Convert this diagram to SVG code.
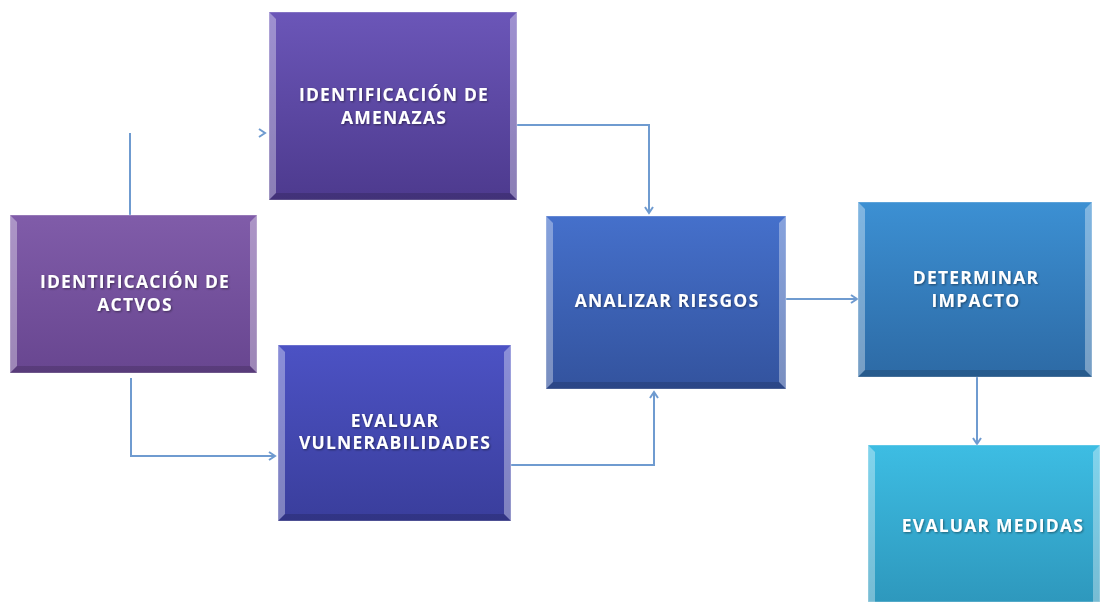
<svg xmlns="http://www.w3.org/2000/svg" width="1100" height="602" viewBox="0 0 1100 602">
<defs>
<linearGradient id="g1" x1="0" y1="0" x2="0" y2="1"><stop offset="0" stop-color="#805ca9"/><stop offset="1" stop-color="#684690"/></linearGradient>
<linearGradient id="g2" x1="0" y1="0" x2="0" y2="1"><stop offset="0" stop-color="#6b56b8"/><stop offset="1" stop-color="#4d3a8e"/></linearGradient>
<linearGradient id="g6" x1="0" y1="0" x2="0" y2="1"><stop offset="0" stop-color="#4c52c4"/><stop offset="1" stop-color="#3a3e9c"/></linearGradient>
<linearGradient id="g3" x1="0" y1="0" x2="0" y2="1"><stop offset="0" stop-color="#4570cb"/><stop offset="1" stop-color="#33539e"/></linearGradient>
<linearGradient id="g4" x1="0" y1="0" x2="0" y2="1"><stop offset="0" stop-color="#3c90d3"/><stop offset="1" stop-color="#2d6aa5"/></linearGradient>
<linearGradient id="g5" x1="0" y1="0" x2="0" y2="1"><stop offset="0" stop-color="#3dbde3"/><stop offset="1" stop-color="#2e98bd"/></linearGradient>
<marker id="ah" markerWidth="10" markerHeight="10" refX="8" refY="5" orient="auto" markerUnits="userSpaceOnUse">
<path d="M2,1 L8,5 L2,9" fill="none" stroke="#6f9bd0" stroke-width="2"/>
</marker>
<filter id="ts" x="-10%" y="-30%" width="120%" height="160%"><feDropShadow dx="1" dy="1" stdDeviation="0.8" flood-color="#000" flood-opacity="0.45"/></filter>
</defs>
<style>
.box{stroke:#ffffff;stroke-opacity:0.35;stroke-width:1}
.bl{fill:#ffffff;fill-opacity:0.35}
.bd{fill:#000000;fill-opacity:0.15}
.t{font-family:"Open Sans","Lato",sans-serif;font-weight:bold;font-size:17.5px;letter-spacing:1.2px;fill:#ffffff;text-anchor:middle;filter:url(#ts)}
.c{fill:none;stroke:#6f9bd0;stroke-width:2}
</style>

<g id="connectors">
<path class="c" d="M130,243 L130,133"/>
<path class="c" d="M257,133 L265,133" marker-end="url(#ah)" stroke-opacity="0"/>
<path class="c" d="M131,378 L131,456 L275,456" marker-end="url(#ah)"/>
<path class="c" d="M517,125 L649,125 L649,213" marker-end="url(#ah)"/>
<path class="c" d="M511,465 L654,465 L654,392" marker-end="url(#ah)"/>
<path class="c" d="M786,299 L857,299" marker-end="url(#ah)"/>
<path class="c" d="M977,377 L977,444" marker-end="url(#ah)"/>
</g>

<g id="n1">
<rect class="box" x="10" y="215" width="247" height="158" fill="url(#g1)"/>
<polygon class="bl" points="10,215 17,222 17,366 10,373"/>
<polygon class="bl" points="257,215 250,222 250,366 257,373"/>
<polygon class="bd" points="10,373 17,366 250,366 257,373"/>
<text class="t" x="135" y="288">IDENTIFICACIÓN DE</text>
<text class="t" x="135" y="311">ACTVOS</text>
</g>

<g id="n2">
<rect class="box" x="269" y="12" width="248" height="188" fill="url(#g2)"/>
<polygon class="bl" points="269,12 276,19 276,193 269,200"/>
<polygon class="bl" points="517,12 510,19 510,193 517,200"/>
<polygon class="bd" points="269,200 276,193 510,193 517,200"/>
<text class="t" x="394" y="101">IDENTIFICACIÓN DE</text>
<text class="t" x="394" y="124">AMENAZAS</text>
</g>

<g id="n6">
<rect class="box" x="278" y="345" width="233" height="176" fill="url(#g6)"/>
<polygon class="bl" points="278,345 285,352 285,514 278,521"/>
<polygon class="bl" points="511,345 504,352 504,514 511,521"/>
<polygon class="bd" points="278,521 285,514 504,514 511,521"/>
<text class="t" x="395" y="427">EVALUAR</text>
<text class="t" x="395" y="449">VULNERABILIDADES</text>
</g>

<g id="n3">
<rect class="box" x="546" y="216" width="240" height="173" fill="url(#g3)"/>
<polygon class="bl" points="546,216 553,223 553,382 546,389"/>
<polygon class="bl" points="786,216 779,223 779,382 786,389"/>
<polygon class="bd" points="546,389 553,382 779,382 786,389"/>
<text class="t" x="667" y="307">ANALIZAR RIESGOS</text>
</g>

<g id="n4">
<rect class="box" x="858" y="202" width="234" height="175" fill="url(#g4)"/>
<polygon class="bl" points="858,202 865,209 865,370 858,377"/>
<polygon class="bl" points="1092,202 1085,209 1085,370 1092,377"/>
<polygon class="bd" points="858,377 865,370 1085,370 1092,377"/>
<text class="t" x="976" y="284">DETERMINAR</text>
<text class="t" x="976" y="307">IMPACTO</text>
</g>

<g id="n5">
<rect class="box" x="868" y="445" width="232" height="157" fill="url(#g5)"/>
<polygon class="bl" points="868,445 875,452 875,602 868,602"/>
<polygon class="bl" points="1100,445 1093,452 1093,602 1100,602"/>
<text class="t" x="993" y="532">EVALUAR MEDIDAS</text>
</g>
</svg>
